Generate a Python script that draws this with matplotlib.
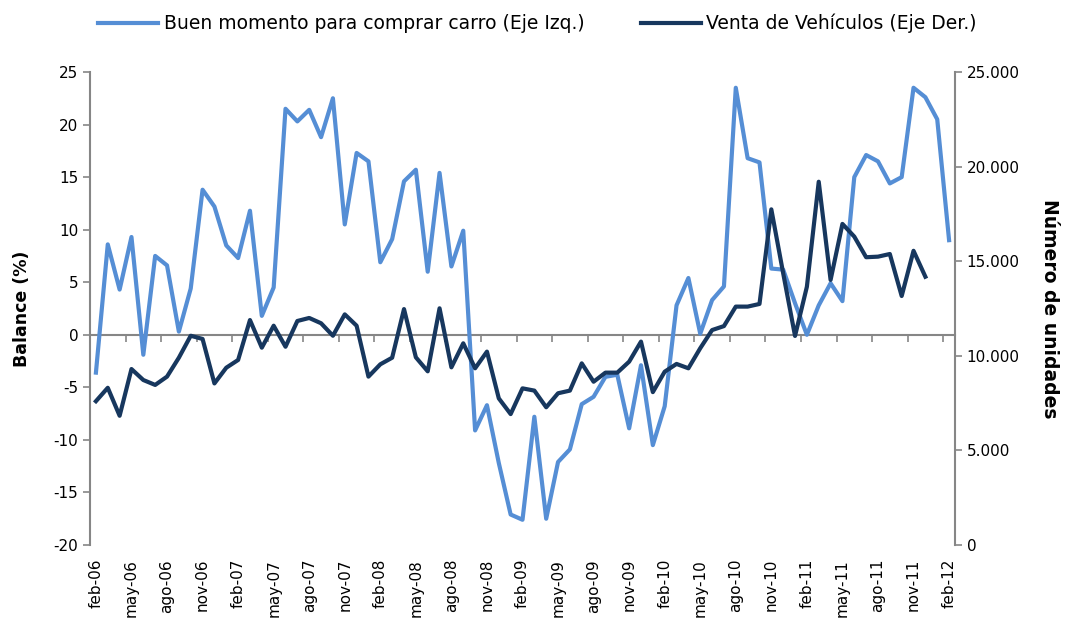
import numpy as np
import matplotlib
matplotlib.use("Agg")
import matplotlib.pyplot as plt

plt.rcParams['font.family'] = ['DejaVu Sans']
plt.rcParams['axes.unicode_minus'] = False

# monthly labels feb-06 .. feb-12
meses = ['ene', 'feb', 'mar', 'abr', 'may', 'jun', 'jul', 'ago', 'sep', 'oct', 'nov', 'dic']
fechas = []
for k in range(73):
    m = (1 + k) % 12
    y = 6 + (1 + k) // 12
    fechas.append(f"{meses[m]}-{y:02d}")

# Buen momento para comprar carro (balance %), left axis
balance = [-3.6, 8.6, 4.3, 9.3, -1.9, 7.5, 6.6, 0.3, 4.4, 13.8,
           12.2, 8.5, 7.3, 11.8, 1.8, 4.5, 21.5, 20.3, 21.4, 18.8,
           22.5, 10.5, 17.3, 16.5, 6.9, 9.1, 14.6, 15.7, 6.0, 15.4,
           6.5, 9.9, -9.1, -6.7, -12.2, -17.1, -17.6, -7.8, -17.5, -12.1,
           -10.9, -6.6, -5.9, -4.0, -3.8, -8.9, -2.9, -10.5, -6.8, 2.8,
           5.4, 0.1, 3.3, 4.6, 23.5, 16.8, 16.4, 6.3, 6.2, 3.0,
           0.0, 2.8, 4.9, 3.2, 15.0, 17.1, 16.5, 14.4, 15.0, 23.5,
           22.6, 20.5, 9.0]

# Venta de vehiculos (unidades), right axis, ends dec-11
ventas = [7600, 8310, 6830, 9300, 8720, 8460, 8900, 9900, 11060, 10890,
          8540, 9370, 9780, 11890, 10430, 11590, 10480, 11840, 12000, 11720,
          11060, 12190, 11590, 8900, 9550, 9900, 12470, 9920, 9180, 12510,
          9390, 10660, 9340, 10220, 7750, 6920, 8280, 8160, 7280, 8020,
          8160, 9600, 8630, 9110, 9110, 9690, 10750, 8080, 9160, 9570,
          9340, 10400, 11360, 11570, 12600, 12600, 12740, 17740, 14360, 11050,
          13650, 19200, 14010, 16970, 16300, 15210, 15240, 15380, 13160, 15550,
          14180]

c_light = '#558ED5'
c_dark = '#17375E'
c_axis = '#868686'

fig = plt.figure(figsize=(10.75, 6.28), dpi=100)
ax = fig.add_axes([90 / 1075, 1 - 545 / 628, 865 / 1075, 473 / 628])
ax2 = ax.twinx()

x1 = np.arange(len(balance))
x2 = np.arange(len(ventas))
l1, = ax.plot(x1, balance, color=c_light, lw=3, solid_joinstyle='round',
              label='Buen momento para comprar carro (Eje Izq.)')
l2, = ax2.plot(x2, ventas, color=c_dark, lw=3, solid_joinstyle='round',
               label='Venta de Vehículos (Eje Der.)')

ax.set_xlim(-0.5, 72.5)
ax.set_ylim(-20, 25)
ax.set_yticks(np.arange(-20, 26, 5))
ax2.set_ylim(0, 25000)
ax2.set_yticks(np.arange(0, 25001, 5000))
ax2.set_yticklabels([f"{v:,.0f}".replace(",", ".") for v in np.arange(0, 25001, 5000)])

for a in (ax, ax2):
    for s in ('top', 'bottom'):
        a.spines[s].set_visible(False)
    a.tick_params(axis='y', colors=c_axis, labelcolor='black', labelsize=11,
                  length=5, width=1.2, direction='out')
ax.spines['left'].set_color(c_axis)
ax.spines['left'].set_linewidth(1.5)
ax2.spines['right'].set_color(c_axis)
ax2.spines['right'].set_linewidth(1.5)
ax2.spines['left'].set_visible(False)
ax.spines['right'].set_visible(False)

ax.set_xticks(x1[::3])
ax.set_xticklabels(fechas[::3], rotation=90, fontsize=11)
ax.tick_params(axis='x', length=0, pad=10)

# zero line with category ticks
sec = ax.secondary_xaxis(20 / 45)
sec.set_xticks(np.arange(-0.5, 73, 3))
sec.set_xticklabels([])
sec.tick_params(axis='x', colors=c_axis, length=5, width=1.2, direction='out')
sec.spines['bottom'].set_color(c_axis)
sec.spines['bottom'].set_linewidth(1.5)

ax.set_ylabel('Balance (%)', fontsize=12.5, fontweight='bold', labelpad=16)
ax2.set_ylabel('Número de unidades', fontsize=13.5, fontweight='bold',
               rotation=270, labelpad=28)

fig.legend(handles=[l1, l2], loc='upper center', bbox_to_anchor=(0.5, 1.005),
           ncol=2, frameon=False, fontsize=13.5, handlelength=3.2,
           columnspacing=3.0, handletextpad=0.3)

plt.savefig('out.png', dpi=100)
